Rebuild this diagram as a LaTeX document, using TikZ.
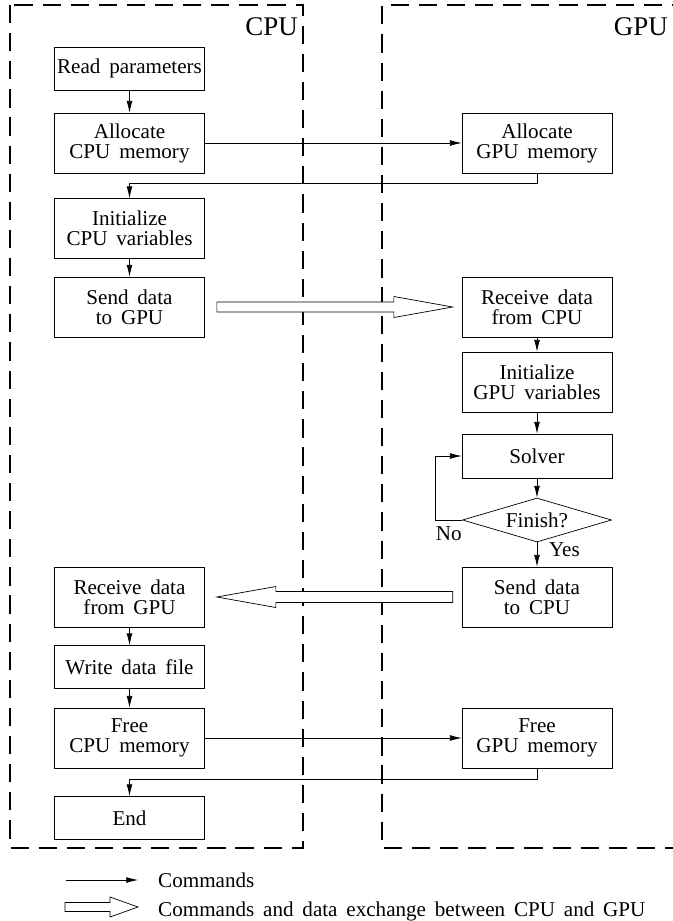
\documentclass[tikz,border=0pt]{standalone}
\usepackage{fontspec}
\setmainfont{Liberation Serif}
\usetikzlibrary{shapes.geometric,arrows.meta,calc}

\begin{document}
\begin{tikzpicture}[x=0.03cm,y=-0.03cm,
  every node/.style={align=center,font={\fontsize{18}{17}\selectfont\spaceskip=0.42em\relax}},
  box/.style={draw,line width=0.6pt,minimum width=4.5cm,minimum height=1.8cm,inner sep=0pt},
  sbox/.style={box,minimum height=1.29cm},
  cmd/.style={-{Latex[length=10pt,width=5pt]},line width=0.6pt},
  fat/.style={draw,line width=0.6pt,fill=white},
  frame/.style={line width=2.2pt,dash pattern=on 15.5pt off 8.5pt},
  title/.style={anchor=base east,inner sep=0pt,font=\fontsize{23}{23}\selectfont}]
  \clip (0,0) rectangle (673,921);
  \draw[frame] (10,5) rectangle (303,848);
  \draw[frame] (690,5) -- (382,5) -- (382,848) -- (690,848);
  \node[title] (cpu) at (298,35) {CPU};
  \node[title] (gpu) at (668,35) {GPU};

  \node[sbox] (read) at (129.5,68.5) {Read parameters};
  \node[box] (alloccpu) at (129.5,143) {Allocate\\CPU memory};
  \node[box] (initcpu) at (129.5,228.5) {Initialize\\CPU variables};
  \node[box] (sendgpu) at (129.5,307) {Send data\\to GPU};
  \node[box] (recvgpu) at (129.5,597) {Receive data\\from GPU};
  \node[sbox] (write) at (129.5,667) {Write data file};
  \node[box] (freecpu) at (129.5,738) {Free\\CPU memory};
  \node[sbox] (finend) at (129.5,818) {End};

  \node[box] (allocgpu) at (537,143) {Allocate\\GPU memory};
  \node[box] (recvcpu) at (537,307) {Receive data\\from CPU};
  \node[box] (initgpu) at (537,382) {Initialize\\GPU variables};
  \node[sbox,minimum height=1.32cm] (solver) at (537,456) {Solver};
  \node[draw,diamond,aspect=3.4,minimum width=4.47cm,minimum height=1.32cm,
    inner sep=0pt,line width=0.6pt] (finish) at (537,520) {Finish?};
  \node[box] (sendcpu) at (537,597) {Send data\\to CPU};
  \node[box] (freegpu) at (537,738) {Free\\GPU memory};

  \draw[cmd] (read) -- (alloccpu);
  \draw[cmd] (alloccpu) -- (allocgpu);
  \draw[cmd] (allocgpu.south) -- ++(0,10) -| (initcpu.north);
  \draw[cmd] (initcpu) -- (sendgpu);
  \draw[cmd] (recvcpu) -- (initgpu);
  \draw[cmd] (initgpu) -- (solver);
  \draw[cmd] (solver) -- (finish);
  \draw[cmd] (finish) -- node[right=10pt,pos=0.3,inner sep=0pt] (yes) {Yes} (sendcpu);
  \draw[cmd] (finish.west) -- ++(-27,0) |- (solver.west);
  \node[anchor=north east,inner sep=0pt] (no) at (462,526) {No};
  \draw[cmd] (recvgpu) -- (write);
  \draw[cmd] (write) -- (freecpu);
  \draw[cmd] (freecpu) -- (freegpu);
  \draw[cmd] (freegpu.south) -- ++(0,11) -| (finend.north);

  \draw[fat] ($(sendgpu.east)+(12,-5)$) -- ++(177,0) -- ++(0,-5.5)
    -- ($(recvcpu.west)+(-9,0)$) -- ($(sendgpu.east)+(189,10.5)$) -- ++(0,-5.5)
    -- ($(sendgpu.east)+(12,5)$) -- cycle;
  \draw[fat] ($(recvgpu.east)+(12,0)$) -- ++(59,-10.5) -- ++(0,5)
    -- ($(sendcpu.west)+(-9,-5.5)$) -- ++(0,11) -- ($(recvgpu.east)+(71,5.5)$)
    -- ++(0,5) -- cycle;

  \coordinate (keya) at (66,880);
  \coordinate (keyb) at (138,880);
  \draw[cmd] (keya) -- (keyb);
  \node[anchor=base west,inner sep=0pt] (keycmd) at (158,887) {Commands};
  \draw[fat] (65,902.5) -- (110,902.5) -- (110,897) -- (138,907) -- (110,917)
    -- (110,911.5) -- (65,911.5) -- cycle;
  \node[anchor=base west,inner sep=0pt] (keyexch) at (158,916)
    {Commands and data exchange between CPU and GPU};
\end{tikzpicture}
\end{document}
